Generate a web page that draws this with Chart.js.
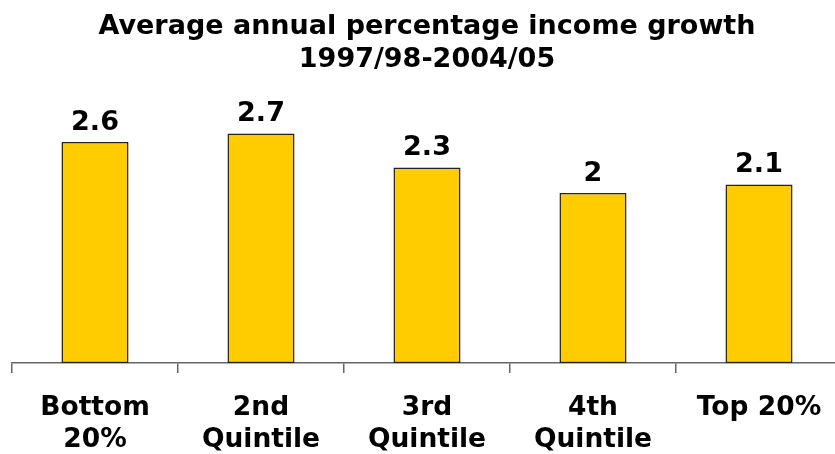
<!DOCTYPE html>
<html>
<head>
<meta charset="utf-8">
<script src="https://cdn.jsdelivr.net/npm/chart.js@4.4.1/dist/chart.umd.min.js"></script>
<style>
  html, body { margin: 0; padding: 0; background: #fff; overflow: hidden; }
  #wrap { width: 835px; height: 454px; overflow: hidden; }
</style>
</head>
<body>
<div id="wrap"><canvas id="chart" width="842" height="454"></canvas></div>
<script>
const categories = [['Bottom', '20%'], ['2nd', 'Quintile'], ['3rd', 'Quintile'], ['4th', 'Quintile'], 'Top 20%'];
const growth = [2.6, 2.7, 2.3, 2, 2.1];
const titleLines = ['Average annual percentage income growth', '1997/98-2004/05'];

const FONT = '"DejaVu Sans", Verdana, sans-serif';

// value labels above each bar
const barValues = {
  id: 'barValues',
  afterDatasetsDraw(chart) {
    const ctx = chart.ctx;
    const meta = chart.getDatasetMeta(0);
    ctx.save();
    ctx.font = 'bold 27px ' + FONT;
    ctx.fillStyle = '#000';
    ctx.textAlign = 'center';
    ctx.textBaseline = 'alphabetic';
    meta.data.forEach((bar, i) => {
      ctx.fillText(String(growth[i]), bar.x, bar.y - 12);
    });
    ctx.restore();
  }
};

new Chart(document.getElementById('chart'), {
  type: 'bar',
  data: {
    labels: categories,
    datasets: [{
      data: growth,
      backgroundColor: '#FFCC00',
      borderColor: '#222',
      borderWidth: 1.5,
      borderSkipped: false,
      barPercentage: 0.404,
      categoryPercentage: 1
    }]
  },
  options: {
    responsive: false,
    animation: false,
    layout: { padding: { left: 12, right: 0, top: 0, bottom: 0 } },
    scales: {
      x: {
        grid: {
          display: true,
          drawOnChartArea: false,
          drawTicks: true,
          tickLength: 10,
          color: '#666',
          lineWidth: 1.5
        },
        border: { display: true, color: '#666', width: 1.5 },
        ticks: {
          color: '#000',
          font: { family: FONT, size: 26.5, weight: 'bold', lineHeight: 1.2 },
          padding: 19,
          maxRotation: 0,
          autoSkip: false
        },
        afterFit(scale) { scale.height = 91; }
      },
      y: { display: false, min: 0, max: 3 }
    },
    plugins: {
      legend: { display: false },
      tooltip: { enabled: false },
      title: {
        display: true,
        text: titleLines,
        color: '#000',
        font: { family: FONT, size: 27, weight: 'bold', lineHeight: 1.24 },
        padding: { top: 10, bottom: 31 }
      }
    }
  },
  plugins: [barValues]
});
</script>
</body>
</html>
